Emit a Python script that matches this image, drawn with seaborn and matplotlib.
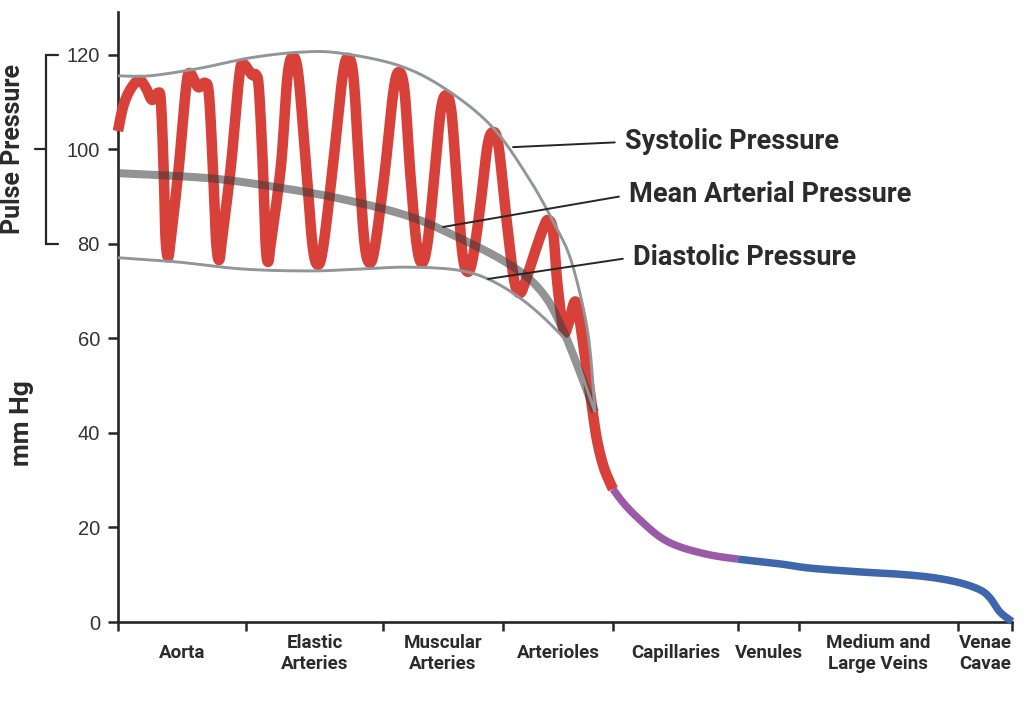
import numpy as np
import matplotlib
matplotlib.use("Agg")
import matplotlib.pyplot as plt
import matplotlib.transforms as mtransforms
import seaborn as sns

# vessel segments along the circulation (x = distance along the path, arbitrary units)
segment_edges = [0, 128, 265, 385, 495, 620, 681, 840, 894]
segment_labels = ["Aorta", "Elastic\nArteries", "Muscular\nArteries", "Arterioles",
                  "Capillaries", "Venules", "Medium and\nLarge Veins", "Venae\nCavae"]
y_ticks = [0, 20, 40, 60, 80, 100, 120]

# pulsatile arterial pressure, mm Hg
arterial_x = [0, 5, 12, 21, 28, 34, 40, 43, 46, 47.5, 50, 53, 61, 68, 72, 80, 87, 91,
              95, 98, 101, 104, 113, 121, 125, 134, 138, 141, 145, 147.5, 150, 153,
              163, 169.5, 175, 180.5, 188, 194.5, 200, 205.5, 215, 224.5, 230, 235.5,
              241, 246.5, 252, 257.5, 267, 275.5, 281, 286.5, 292, 298.5, 304, 309.5,
              316, 322.5, 328, 333.5, 339, 344.5, 350, 355.5, 363, 369.5, 375, 380.5,
              388, 396, 402, 408, 416, 425, 430, 435, 439, 444, 447, 451, 458, 466,
              474, 479, 486, 495]
arterial_y = [103.9, 109.0, 112.6, 114.7, 113.0, 110.5, 112.0, 109.8, 93.5, 81.5, 77.2,
              81.5, 96.7, 113.0, 116.2, 113.2, 114.1, 111.5, 95.7, 81.0, 76.6, 81.0,
              96.7, 115.0, 118.1, 115.8, 115.8, 112.6, 95.7, 80.5, 76.2, 80.5, 96.7,
              115.5, 119.6, 115.5, 96.7, 79.8, 75.6, 79.8, 96.7, 115.3, 119.4, 115.3,
              96.7, 80.2, 76.0, 80.2, 95.7, 112.4, 116.4, 112.4, 95.7, 80.2, 76.0,
              80.2, 93.5, 107.8, 111.5, 107.8, 92.5, 77.8, 74.1, 77.8, 89.3, 100.8,
              103.7, 100.8, 86.1, 72.5, 69.6, 72.5, 77.7, 83.2, 85.1, 82.8, 72.4,
              63.5, 61.2, 63.5, 67.7, 57.6, 45.5, 38.5, 32.6, 28.1]

# capillary and venous pressure
capillary_x = [495, 507, 522, 542, 562, 592, 620]
capillary_y = [28.1, 24.8, 21.6, 18.0, 15.9, 14.2, 13.3]
venous_x = [620, 662, 692, 742, 782, 815, 842, 862, 872, 882, 894]
venous_y = [13.3, 12.3, 11.4, 10.6, 10.1, 9.4, 8.3, 6.8, 5.1, 2.1, 0.1]

# envelopes
systolic_x = [0, 32, 82, 132, 182, 222, 282, 329, 375, 412, 437, 452, 465, 472, 477]
systolic_y = [115.6, 115.6, 117.2, 119.4, 120.6, 120.4, 117.7, 112.6, 104.6, 93.5,
              84.0, 77.2, 66.7, 57.6, 44.4]
diastolic_x = [0, 59, 125, 192, 242, 289, 339, 372, 405, 435, 455, 467, 477]
diastolic_y = [77.1, 76.2, 74.7, 74.3, 74.7, 75.1, 74.5, 72.4, 68.1, 62.5, 57.5, 50.5, 44.4]
mean_x = [0, 92, 159, 222, 289, 339, 389, 422, 445, 477]
mean_y = [95.0, 93.9, 92.0, 89.6, 86.0, 81.5, 76.0, 70.3, 61.8, 44.4]

RED = "#d8413a"
PURPLE = "#9a5aa8"
BLUE = "#3e66ad"
ENV = "#929699"
INK = "#262626"


def smooth(xs, ys, n=14):
    """Catmull-Rom curve through the read points (drawing only)."""
    pts = np.column_stack([xs, ys]).astype(float)
    pts = np.vstack([pts[0], pts, pts[-1]])
    t = np.linspace(0, 1, n, endpoint=False)[:, None]
    out = []
    for i in range(1, len(pts) - 2):
        p0, p1, p2, p3 = pts[i - 1], pts[i], pts[i + 1], pts[i + 2]
        seg = 0.5 * (2 * p1 + (-p0 + p2) * t
                     + (2 * p0 - 5 * p1 + 4 * p2 - p3) * t ** 2
                     + (-p0 + 3 * p1 - 3 * p2 + p3) * t ** 3)
        out.append(seg)
    out.append(pts[-2][None, :])
    out = np.vstack(out)
    return out[:, 0], out[:, 1]


sns.set_theme(style="white")
plt.rcParams["font.family"] = ["Roboto", "DejaVu Sans"]

fig = plt.figure(figsize=(10.25, 7.14), dpi=100)
ax = fig.add_axes([118 / 1025, 92 / 714, 894 / 1025, 610 / 714])

def draw(xs, ys, color, lw, z, alpha=1.0):
    sx, sy = smooth(xs, ys)
    sns.lineplot(x=sx, y=sy, sort=False, estimator=None, color=color,
                 linewidth=lw, alpha=alpha, ax=ax, zorder=z,
                 solid_capstyle="butt", solid_joinstyle="round", clip_on=False)

draw(arterial_x, arterial_y, RED, 7.6, 3)
draw(capillary_x, capillary_y, PURPLE, 5.4, 3)
draw(venous_x, venous_y, BLUE, 5.4, 3)
draw(mean_x, mean_y, "#3a3a3a", 5.8, 4, alpha=0.55)
draw(systolic_x, systolic_y, ENV, 2.1, 5)
draw(diastolic_x, diastolic_y, ENV, 2.1, 5)

ax.set_xlim(0, 894)
ax.set_ylim(0, 129.1)

for side in ["top", "right"]:
    ax.spines[side].set_visible(False)
for side in ["left", "bottom"]:
    ax.spines[side].set_linewidth(1.9)
    ax.spines[side].set_color(INK)

ax.set_yticks(y_ticks)
ax.set_yticklabels([str(v) for v in y_ticks], family="Liberation Sans",
                   fontsize=14.5, color="#333333")
ax.tick_params(axis="y", direction="out", length=7.2, width=1.8, color=INK, pad=5.8, left=True)

ax.set_xticks(segment_edges)
ax.set_xticklabels([""] * len(segment_edges))
ax.tick_params(axis="x", which="major", direction="out", length=6.5, width=1.8,
               color=INK, bottom=True)
mids = [(a + b) / 2 for a, b in zip(segment_edges[:-1], segment_edges[1:])]
ax.set_xticks(mids, minor=True)
ax.set_xticklabels(segment_labels, minor=True, fontsize=13.5, fontweight="bold",
                   color="#2b2b2b", linespacing=1.25)
ax.tick_params(axis="x", which="minor", length=0, pad=22.5)
for lab in ax.get_xticklabels(minor=True):
    lab.set_verticalalignment("center")

ax.set_xlabel("")
ax.set_ylabel("")

# annotations with leader lines
notes = [("Systolic Pressure", (395, 100.5), (507, 101.6)),
         ("Mean Arterial Pressure", (325, 83.6), (511, 90.4)),
         ("Diastolic Pressure", (370, 72.6), (515, 77.2))]
for text, xy, xytext in notes:
    ax.annotate(text, xy=xy, xytext=xytext, va="center", ha="left",
                fontsize=19.5, fontweight="bold", color="#2b2b2b", zorder=6,
                arrowprops=dict(arrowstyle="-", color=INK, lw=1.4,
                                relpos=(0, 0.5), shrinkA=5, shrinkB=0))

# pulse pressure bracket and axis titles
trans = mtransforms.blended_transform_factory(ax.transAxes, ax.transData)
bx = (46 - 118) / 894
bx_in = (58 - 118) / 894
bx_out = (35 - 118) / 894
ax.plot([bx_in, bx, bx, bx_in], [120, 120, 80, 80], color=INK, lw=1.6,
        transform=trans, clip_on=False, solid_joinstyle="miter")
ax.plot([bx_out, bx], [100, 100], color=INK, lw=1.6, transform=trans, clip_on=False)
ax.text((13 - 118) / 894, 100, "Pulse Pressure", transform=trans, rotation=90,
        ha="center", va="center", fontsize=18, fontweight="bold", color="#2b2b2b")
ax.text((22 - 118) / 894, (622 - 423) / 4.725, "mm Hg", transform=trans, rotation=90,
        ha="center", va="center", fontsize=19, fontweight="bold", color="#2b2b2b")

fig.savefig("out.png", dpi=100, facecolor="white")
